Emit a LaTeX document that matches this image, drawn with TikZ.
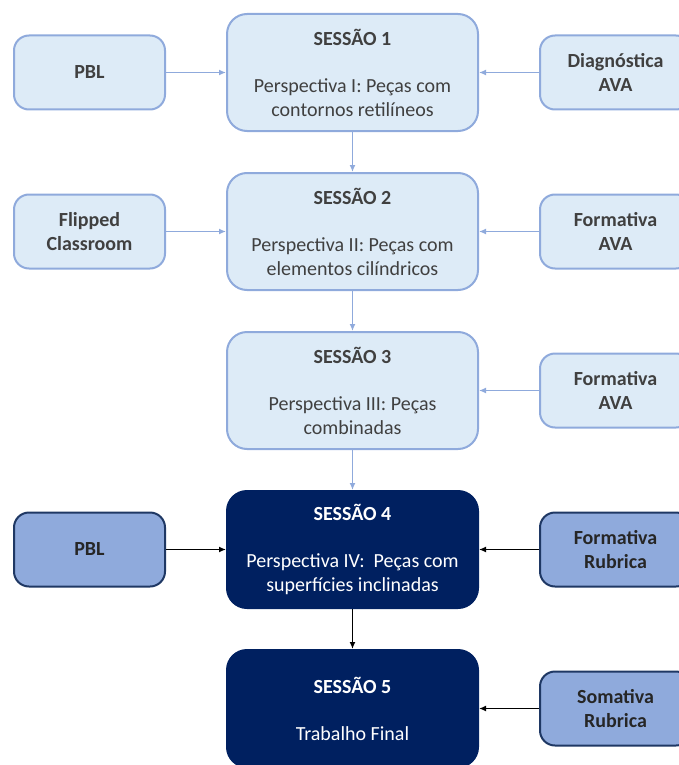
\documentclass[tikz,border=0pt]{standalone}
\usepackage{fontspec}
\setmainfont{Carlito}
\usetikzlibrary{arrows.meta,positioning}
\definecolor{Pale}{HTML}{DDEBF7}
\definecolor{Edge}{HTML}{8FAADC}
\definecolor{Navy}{HTML}{002060}
\definecolor{NavyEdge}{HTML}{1F3864}
\definecolor{Ink}{HTML}{404040}
\definecolor{InkDark}{HTML}{262626}
\tikzset{
  sess/.style={draw=Edge,fill=Pale,line width=2pt,rounded corners=20pt,minimum width=251pt,minimum height=117pt,align=center,text=Ink,font=\fontsize{20}{24}\selectfont},
  sessdark/.style={sess,draw=Navy,fill=Navy,text=white},
  side/.style={draw=Edge,fill=Pale,line width=2pt,rounded corners=15pt,minimum width=151pt,minimum height=74pt,align=center,text=Ink,font=\fontsize{20}{24}\selectfont\bfseries},
  sidedark/.style={side,draw=NavyEdge,fill=Edge,text=InkDark},
  link/.style={-{Latex[length=7pt,width=6pt]},draw=Edge,line width=1.5pt},
  linkdark/.style={-{Latex[length=7pt,width=6pt]},draw=black,line width=1.5pt}
}

\begin{document}
\begin{tikzpicture}[x=1pt,y=-1pt,node distance=40pt]
  \useasboundingbox (0,0) rectangle (679,765);
  % sessions
  \node[sess] (s1) at (352.5,72.5) {\textbf{SESSÃO 1}\\[23pt]Perspectiva I: Peças com\\contornos retilíneos};
  \node[sess,below=of s1] (s2) {\textbf{SESSÃO 2}\\[23pt]Perspectiva II: Peças com\\elementos cilíndricos};
  \node[sess,below=of s2] (s3) {\textbf{SESSÃO 3}\\[23pt]Perspectiva III: Peças\\combinadas};
  \node[sessdark,below=of s3] (s4) {\textbf{SESSÃO 4}\\[23pt]Perspectiva IV:\ \ Peças com\\superfícies inclinadas};
  \node[sessdark,below=of s4] (s5) {\textbf{SESSÃO 5}\\[23pt]Trabalho Final};
  % methods and assessment
  \node[side,left=60pt of s1] (m1) {PBL};
  \node[side,right=60pt of s1] (a1) {Diagnóstica\\AVA};
  \node[side,left=60pt of s2] (m2) {Flipped\\Classroom};
  \node[side,right=60pt of s2] (a2) {Formativa\\AVA};
  \node[side,right=60pt of s3] (a3) {Formativa\\AVA};
  \node[sidedark,left=60pt of s4] (m4) {PBL};
  \node[sidedark,right=60pt of s4] (a4) {Formativa\\Rubrica};
  \node[sidedark,right=60pt of s5] (a5) {Somativa\\Rubrica};
  % connectors
  \draw[link] (s1) -- (s2);
  \draw[link] (s2) -- (s3);
  \draw[link] (s3) -- (s4);
  \draw[linkdark] (s4) -- (s5);
  \draw[link] (m1) -- (s1);
  \draw[link] (a1) -- (s1);
  \draw[link] (m2) -- (s2);
  \draw[link] (a2) -- (s2);
  \draw[link] (a3) -- (s3);
  \draw[linkdark] (m4) -- (s4);
  \draw[linkdark] (a4) -- (s4);
  \draw[linkdark] (a5) -- (s5);
\end{tikzpicture}
\end{document}
